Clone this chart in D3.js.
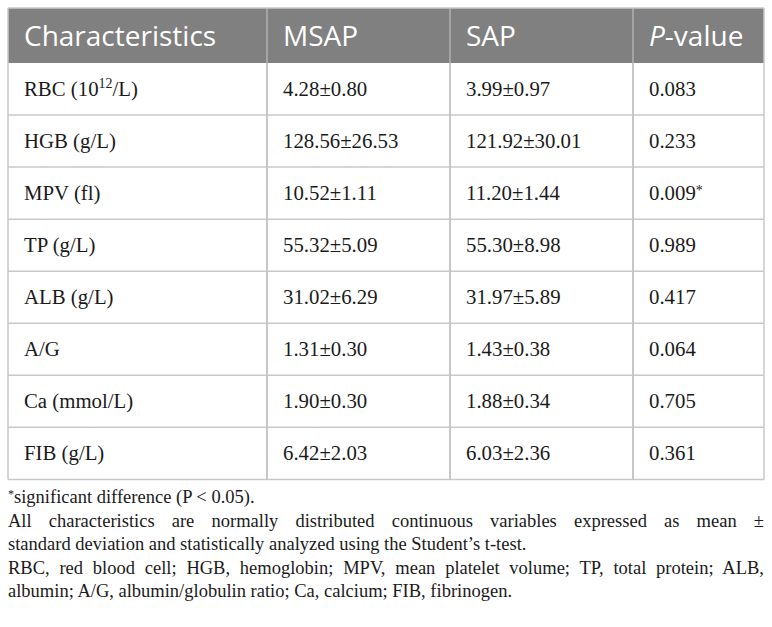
<!DOCTYPE html>
<html>
<head>
<meta charset="utf-8">
<script src="https://cdn.jsdelivr.net/npm/d3@7"></script>
<style>
  body { margin: 0; background: #fff; }
</style>
</head>
<body>
<svg id="tbl" width="772" height="627"></svg>
<script>
const headers = ["Characteristics", "MSAP", "SAP", "P-value"];
const characteristics = ["RBC (10^12/L)", "HGB (g/L)", "MPV (fl)", "TP (g/L)", "ALB (g/L)", "A/G", "Ca (mmol/L)", "FIB (g/L)"];
const msap = ["4.28±0.80", "128.56±26.53", "10.52±1.11", "55.32±5.09", "31.02±6.29", "1.31±0.30", "1.90±0.30", "6.42±2.03"];
const sap = ["3.99±0.97", "121.92±30.01", "11.20±1.44", "55.30±8.98", "31.97±5.89", "1.43±0.38", "1.88±0.34", "6.03±2.36"];
const pValues = ["0.083", "0.233", "0.009*", "0.989", "0.417", "0.064", "0.705", "0.361"];
// footnote lines as they break in the original; justified lines marked true
const footnoteLines = [
    "*significant difference (P < 0.05).",
    "All characteristics are normally distributed continuous variables expressed as mean ±",
    "standard deviation and statistically analyzed using the Student’s t-test.",
    "RBC, red blood cell; HGB, hemoglobin; MPV, mean platelet volume; TP, total protein; ALB,",
    "albumin; A/G, albumin/globulin ratio; Ca, calcium; FIB, fibrinogen."
];
const footnoteJustify = [false, true, false, true, false];

const svg = d3.select("#tbl");
const tLeft = 8, tRight = 764, tTop = 8, headH = 55, rowH = 52.05;
const colEdges = [tLeft, 267, 450, 633, tRight];
const padX = 16;
const serif = "'Liberation Serif', 'Times New Roman', serif";
const sans = "'Open Sans', 'Noto Sans', sans-serif";

const rows = characteristics.map((c, i) => [c, msap[i], sap[i], pValues[i]]);

const y = d3.scaleBand()
    .domain(d3.range(rows.length))
    .range([tTop + headH, tTop + headH + rowH * rows.length]);

const tableBottom = y.range()[1];

// header
svg.append("rect")
    .attr("x", tLeft).attr("y", tTop)
    .attr("width", tRight - tLeft).attr("height", headH)
    .attr("fill", "#808080");

svg.selectAll("text.head")
    .data(headers)
    .enter()
    .append("text")
    .attr("class", "head")
    .attr("x", (d, i) => colEdges[i] + padX)
    .attr("y", tTop + 38)
    .attr("font-family", sans)
    .attr("font-size", 28)
    .attr("fill", "#fff")
    .each(function (d) {
        const t = d3.select(this);
        if (d === "P-value") {
            t.append("tspan").attr("font-style", "italic").text("P");
            t.append("tspan").text("-value");
        } else {
            t.text(d);
        }
    });

// row lines
svg.selectAll("line.row")
    .data(d3.range(rows.length))
    .enter()
    .append("line")
    .attr("class", "row")
    .attr("x1", tLeft).attr("x2", tRight)
    .attr("y1", d => y(d) + y.bandwidth())
    .attr("y2", d => y(d) + y.bandwidth())
    .attr("stroke", "#c8c8c8")
    .attr("stroke-width", 1.5);

// vertical lines
svg.selectAll("line.col")
    .data(colEdges)
    .enter()
    .append("line")
    .attr("class", "col")
    .attr("x1", d => d).attr("x2", d => d)
    .attr("y1", tTop).attr("y2", tableBottom)
    .attr("stroke", (d, i) => (i === 0 || i === colEdges.length - 1) ? "#c8c8c8" : "#b0b0b0")
    .attr("stroke-width", 1.5);

svg.selectAll("line.colBody")
    .data(colEdges.slice(1, -1))
    .enter()
    .append("line")
    .attr("x1", d => d).attr("x2", d => d)
    .attr("y1", tTop + headH).attr("y2", tableBottom)
    .attr("stroke", "#c8c8c8")
    .attr("stroke-width", 1.5);

svg.append("line")
    .attr("x1", tLeft).attr("x2", tRight)
    .attr("y1", tTop).attr("y2", tTop)
    .attr("stroke", "#c8c8c8").attr("stroke-width", 1.5);

// cells
const rowG = svg.selectAll("g.row")
    .data(rows)
    .enter()
    .append("g")
    .attr("transform", (d, i) => `translate(0,${y(i) + y.bandwidth() / 2 + 6.5})`);

rowG.selectAll("text")
    .data(d => d)
    .enter()
    .append("text")
    .attr("x", (d, i) => colEdges[i] + padX)
    .attr("font-family", serif)
    .attr("font-size", 20.8)
    .attr("fill", "#1a1a1a")
    .each(function (d) {
        const t = d3.select(this);
        if (d.includes("^")) {
            const m = d.match(/^(.*)\^(\d+)(.*)$/);
            t.append("tspan").text(m[1]);
            t.append("tspan").attr("font-size", 14).attr("dy", -8).text(m[2]);
            t.append("tspan").attr("dy", 8).text(m[3]);
        } else if (d.endsWith("*")) {
            t.append("tspan").text(d.slice(0, -1));
            t.append("tspan").attr("font-size", 14).attr("dy", -5).text("*");
        } else {
            t.text(d);
        }
    });

// footnotes, justified where the original is
const noteSize = 18.5, lineH = 23.5, noteW = tRight - tLeft;
const measure = svg.append("text")
    .attr("font-family", serif).attr("font-size", noteSize)
    .attr("visibility", "hidden");

function textWidth(s) {
    measure.text(s);
    return measure.node().getComputedTextLength();
}

footnoteLines.forEach((s, i) => {
    const t = svg.append("text")
        .attr("x", tLeft)
        .attr("y", tableBottom + 24 + i * lineH)
        .attr("font-family", serif)
        .attr("font-size", noteSize)
        .attr("fill", "#1a1a1a");
    if (footnoteJustify[i]) {
        const gaps = s.split(" ").length - 1;
        t.attr("word-spacing", (noteW - textWidth(s)) / gaps);
    }
    if (s.startsWith("*")) {
        t.append("tspan").attr("font-size", 12).attr("dy", -5).text("*");
        t.append("tspan").attr("dy", 5).text(s.slice(1));
    } else {
        t.text(s);
    }
});
measure.remove();
</script>
</body>
</html>
